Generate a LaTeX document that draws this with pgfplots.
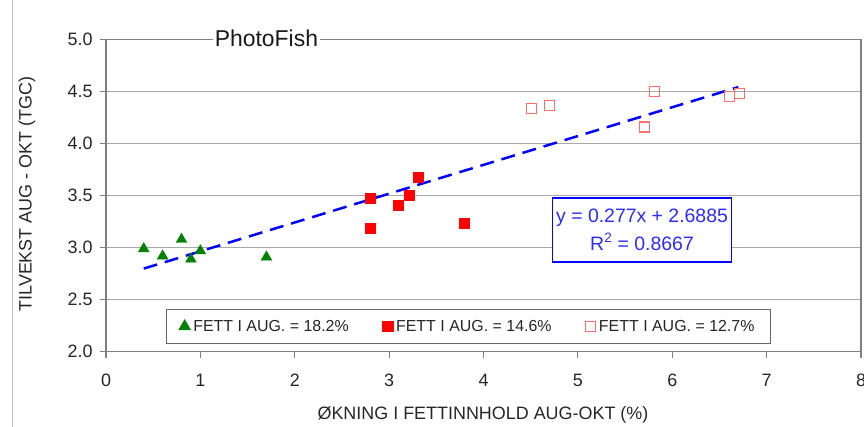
\documentclass[border=0pt]{standalone}
\usepackage{fontspec}
\setmainfont{Liberation Sans}
\usepackage{pgfplots}
\pgfplotsset{compat=1.18}
\definecolor{mgreen}{RGB}{0,128,0}
\definecolor{mred}{RGB}{255,0,0}
\definecolor{lred}{RGB}{255,110,110}
\definecolor{tblue}{RGB}{0,0,255}
\definecolor{eqblue}{RGB}{45,45,255}
\definecolor{gridgray}{RGB}{168,168,168}
\definecolor{axgray}{RGB}{128,128,128}
\begin{document}
\begin{tikzpicture}
\draw[gray!45, line width=1.5bp] (12.7bp,0bp) -- (12.7bp,427bp);
\begin{axis}[
  at={(106bp,75.3bp)}, anchor=south west,
  scale only axis, width=755bp, height=312bp,
  clip=false,
  xmin=0, xmax=8, ymin=2, ymax=5,
  xtick={0,1,...,8}, ytick={2,2.5,...,5},
  yticklabel style={/pgf/number format/fixed, /pgf/number format/fixed zerofill, /pgf/number format/precision=1},
  /pgf/number format/assume math mode=true,
  ticklabel style={font=\fontsize{18}{21}\selectfont, text=black!85},
  xticklabel style={yshift=-13bp},
  yticklabel style={xshift=-4bp},
  tick align=outside, xtick pos=bottom, ytick pos=left,
  major tick length=6bp,
  tick style={axgray, line width=1.2bp},
  axis line style={axgray, line width=1.3bp},
  ymajorgrids, grid style={gridgray, line width=1.5bp},
  xlabel={ØKNING I FETTINNHOLD AUG-OKT (\%)},
  ylabel={TILVEKST AUG - OKT (TGC)},
  every axis x label/.style={at={(axis description cs:0.4993,-0.203)}, anchor=center, font=\fontsize{18}{21}\selectfont, text=black!85},
  every axis y label/.style={at={(axis description cs:-0.1046,0.505)}, anchor=center, rotate=90, font=\fontsize{18}{21}\selectfont, text=black!85},
  legend columns=3,
  legend cell align=left,
  legend image code/.code={\draw[#1] plot coordinates {(0bp,0bp)};},
  legend style={
    at={(axis description cs:0.0791,0.0236)}, anchor=south west,
    draw=axgray!80!black, line width=1.2bp, fill=white,
    font=\fontsize{16}{19}\selectfont, text=black!85,
    inner xsep=13bp, inner ysep=9bp,
    nodes={inner xsep=3.2bp, inner ysep=2bp},
    /tikz/every even column/.append style={column sep=31bp},
  },
]
\addplot[only marks, mark=triangle*, mark size=6.2bp, color=mgreen, fill=mgreen]
  coordinates {(0.4,2.99) (0.6,2.92) (0.8,3.08) (0.9,2.89) (1.0,2.97) (1.7,2.91)};
\addlegendentry{FETT I AUG. = 18.2\%}
\addplot[only marks, mark=square*, mark size=5bp, color=mred, fill=mred]
  coordinates {(2.8,3.48) (2.8,3.19) (3.1,3.41) (3.21,3.50) (3.31,3.68) (3.8,3.24)};
\addlegendentry{FETT I AUG. = 14.6\%}
\addplot[only marks, mark=square, mark size=5bp, color=lred, line width=1.2bp, mark options={fill=white}]
  coordinates {(4.51,4.34) (4.7,4.37) (5.81,4.50) (5.71,4.16) (6.61,4.45) (6.71,4.48)};
\addlegendentry{FETT I AUG. = 12.7\%}
\addplot[tblue, line width=2.5bp, dash pattern=on 14bp off 8bp, forget plot]
  coordinates {(0.4,2.7993) (6.7,4.5444)};
\node[font=\fontsize{23}{27}\selectfont, anchor=base, text=black!90, fill=white, inner xsep=1.5bp, inner ysep=1bp] at (axis cs:1.70,4.933) {PhotoFish};
\node[draw=tblue, line width=1.6bp, fill=white, text=eqblue, align=center,
      font=\fontsize{19.5}{28}\selectfont, minimum width=179bp, minimum height=64bp, inner sep=2bp]
  at (axis cs:5.68,3.173) {y = 0.277x + 2.6885\\R\textsuperscript{2} = 0.8667};
\end{axis}
\pgfresetboundingbox
\path[use as bounding box] (0bp,0bp) rectangle (864bp,427bp);
\end{tikzpicture}
\end{document}
